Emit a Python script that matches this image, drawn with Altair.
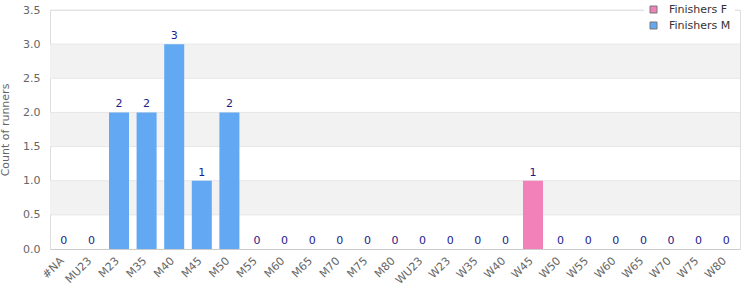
import altair as alt
import pandas as pd

categories = ["#NA", "MU23", "M23", "M35", "M40", "M45", "M50", "M55", "M60", "M65",
              "M70", "M75", "M80", "WU23", "W23", "W35", "W40", "W45", "W50", "W55",
              "W60", "W65", "W70", "W75", "W80"]
finishers_f = [0, 0, 0, 0, 0, 0, 0, 0, 0, 0, 0, 0, 0, 0, 0, 0, 0, 1, 0, 0, 0, 0, 0, 0, 0]
finishers_m = [0, 0, 2, 2, 3, 1, 2, 0, 0, 0, 0, 0, 0, 0, 0, 0, 0, 0, 0, 0, 0, 0, 0, 0, 0]
series_names = ["Finishers F", "Finishers M"]
series_colors = ["#f281b9", "#62a8f2"]
y_ticks = [0, 0.5, 1.0, 1.5, 2.0, 2.5, 3.0, 3.5]
band_start = [0.5, 1.5, 2.5]
band_end = [1.0, 2.0, 3.0]

rows = []
for c, f, m in zip(categories, finishers_f, finishers_m):
    rows.append({"cat": c, "series": "Finishers F", "v": f})
    rows.append({"cat": c, "series": "Finishers M", "v": m})
bars_df = pd.DataFrame(rows)
labels_df = pd.DataFrame({"cat": categories,
                          "v": [f + m for f, m in zip(finishers_f, finishers_m)]})
bands_df = pd.DataFrame({"y0": band_start, "y1": band_end})
grid_df = pd.DataFrame({"y": y_ticks[1:]})

W, H = 690, 239
yscale = alt.Scale(domain=[0, 3.5], nice=False)
xscale = alt.Scale(domain=categories, paddingInner=0, paddingOuter=0)

bands = alt.Chart(bands_df).mark_rect(color="#f2f2f2").encode(
    y=alt.Y("y0:Q", scale=yscale, title="Count of runners"),
    y2="y1:Q",
    x=alt.value(0),
    x2=alt.value(W),
)
grid = alt.Chart(grid_df).mark_rule(color="#e6e6e6", strokeWidth=1).encode(
    y=alt.Y("y:Q", scale=yscale, title="Count of runners"),
    x=alt.value(0),
    x2=alt.value(W),
)
xaxis = alt.Axis(labels=False, domainColor="#cccccc", ticks=False, grid=False)
bars = alt.Chart(bars_df).mark_bar(size=20).encode(
    x=alt.X("cat:N", scale=xscale, sort=categories, title=None, axis=xaxis),
    y=alt.Y("v:Q", scale=yscale, title="Count of runners"),
    color=alt.Color("series:N", scale=alt.Scale(domain=series_names, range=series_colors),
                    legend=alt.Legend(title=None, orient="none", legendX=594, legendY=-10,
                                      symbolType="square", symbolSize=49, symbolStrokeColor="#777777",
                                      symbolStrokeWidth=1, labelFont="DejaVu Sans", labelFontSize=11,
                                      labelColor="#333333", labelOffset=10, rowPadding=4,
                                      fillColor="white", padding=4)),
)
text = alt.Chart(labels_df).mark_text(baseline="bottom", dy=-3, font="DejaVu Sans", fontSize=11,
                                      color="#1c1c8c").encode(
    x=alt.X("cat:N", scale=xscale, sort=categories, title=None, axis=xaxis),
    y=alt.Y("v:Q", scale=yscale, title="Count of runners"),
    text="v:Q",
)
xlabels = alt.Chart(labels_df).mark_text(angle=315, align="right", baseline="middle",
                                         font="DejaVu Sans", fontSize=11, color="#666666",
                                         dx=-2).encode(
    x=alt.X("cat:N", scale=xscale, sort=categories, title=None, axis=xaxis),
    y=alt.value(H + 9),
    text="cat:N",
)

chart = alt.layer(bands, grid, bars, text, xlabels).properties(
    width=W, height=H,
    autosize=alt.AutoSizeParams(type="none"),
    padding={"left": 50, "top": 10, "right": 10, "bottom": 51},
).configure_view(stroke="#dddddd").configure(background="white").configure_axisY(
    values=y_ticks, format=".1f", grid=False, domain=False, ticks=False, labelPadding=10,
    labelOverlap=False, labelFlush=False,
    labelFont="DejaVu Sans", labelFontSize=11, labelColor="#666666",
    titleFont="DejaVu Sans", titleFontSize=11, titleFontWeight="normal",
    titleColor="#666666", titlePadding=12,
)

chart.save("out.html", embed_options={"renderer": "svg", "actions": False})
